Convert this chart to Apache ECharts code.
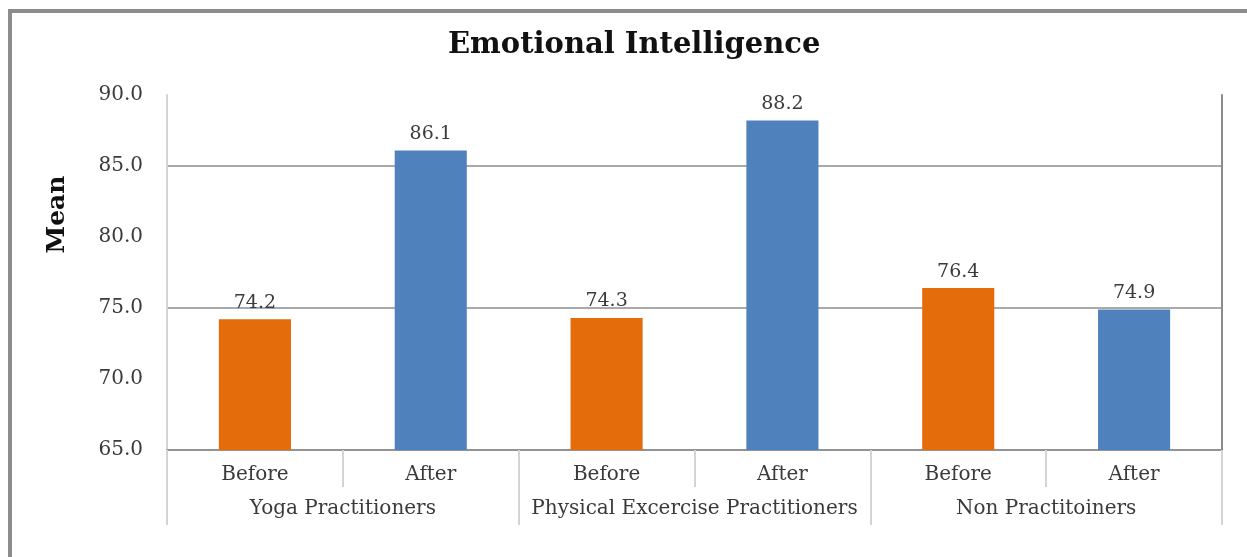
<!DOCTYPE html>
<html>
<head>
<meta charset="utf-8">
<script src="https://cdn.jsdelivr.net/npm/echarts@6/dist/echarts.min.js"></script>
<style>
  html, body { margin: 0; padding: 0; background: #ffffff; }
  #chart { width: 1247px; height: 557px; }
</style>
</head>
<body>
<div id="chart"></div>
<script>
// ---- data ----
const chartTitle = 'Emotional Intelligence';
const yAxisName = 'Mean';
const groups = ['Yoga Practitioners', 'Physical Excercise Practitioners', 'Non Practitoiners'];
const phases = ['Before', 'After', 'Before', 'After', 'Before', 'After'];
const means = [74.2, 86.1, 74.3, 88.2, 76.4, 74.9];
const yMin = 65;
const yMax = 90;
const yStep = 5;

// ---- styles ----
const FONT = 'DejaVu Serif';
const ORANGE = '#E46C0A';
const BLUE = '#4F81BD';
const DARK_LINE = '#8c8c8c';
const LIGHT_LINE = '#d4d4d4';
const TEXT = '#3a3a3a';

const chart = echarts.init(document.getElementById('chart'), null, { renderer: 'canvas' });

chart.setOption({
  backgroundColor: '#ffffff',
  animation: false,
  graphic: [{
    type: 'rect',
    shape: { x: 10, y: 11, width: 1300, height: 620 },
    style: { fill: 'none', stroke: DARK_LINE, lineWidth: 4 },
    silent: true,
    z: -10
  }],
  title: {
    text: chartTitle,
    left: 443,
    top: 26,
    textStyle: { fontFamily: FONT, fontWeight: 'bold', fontSize: 29, color: '#111' }
  },
  grid: {
    left: 167, right: 25, top: 95, bottom: 107,
    containLabel: false,
    outerBoundsMode: 'none'
  },
  xAxis: [{
    type: 'category',
    data: phases,
    position: 'bottom',
    boundaryGap: true,
    axisLine: { show: true, lineStyle: { color: DARK_LINE, width: 1.5 } },
    axisTick: { show: true, interval: 0, length: 37, lineStyle: { color: LIGHT_LINE, width: 2 } },
    axisLabel: { interval: 0, margin: 15, fontFamily: FONT, fontSize: 20, color: TEXT },
    splitLine: { show: false }
  }, {
    type: 'category',
    data: groups,
    position: 'bottom',
    boundaryGap: true,
    axisLine: { show: false },
    axisTick: { show: true, interval: 0, length: 75, lineStyle: { color: LIGHT_LINE, width: 2 } },
    axisLabel: { interval: 0, margin: 49, fontFamily: FONT, fontSize: 20, color: TEXT },
    splitLine: { show: false }
  }],
  yAxis: [{
    type: 'value',
    min: yMin,
    max: yMax,
    interval: yStep,
    position: 'left',
    name: yAxisName,
    nameLocation: 'middle',
    nameRotate: 90,
    nameGap: 97,
    nameTextStyle: { fontFamily: FONT, fontWeight: 'bold', fontSize: 25, color: '#111', padding: [0, 0, 0, 116] },
    axisLine: { show: true, lineStyle: { color: LIGHT_LINE, width: 2 } },
    axisTick: { show: false },
    axisLabel: {
      margin: 24,
      fontFamily: FONT, fontSize: 20, color: TEXT,
      formatter: v => v.toFixed(1)
    },
    splitLine: { show: true, lineStyle: { color: [DARK_LINE, 'rgba(0,0,0,0)'], width: 1.5 } }
  }, {
    type: 'value',
    min: yMin,
    max: yMax,
    interval: yStep,
    position: 'right',
    axisLine: { show: true, lineStyle: { color: DARK_LINE, width: 2 } },
    axisTick: { show: false },
    axisLabel: { show: false },
    splitLine: { show: false }
  }],
  series: [{
    type: 'bar',
    xAxisIndex: 0,
    yAxisIndex: 0,
    data: means,
    barWidth: '41%',
    itemStyle: {
      color: p => (phases[p.dataIndex] === 'Before' ? ORANGE : BLUE)
    },
    label: {
      show: true,
      position: 'top',
      distance: 7,
      fontFamily: FONT, fontSize: 19, color: TEXT,
      formatter: p => p.value.toFixed(1)
    }
  }]
});
</script>
</body>
</html>
